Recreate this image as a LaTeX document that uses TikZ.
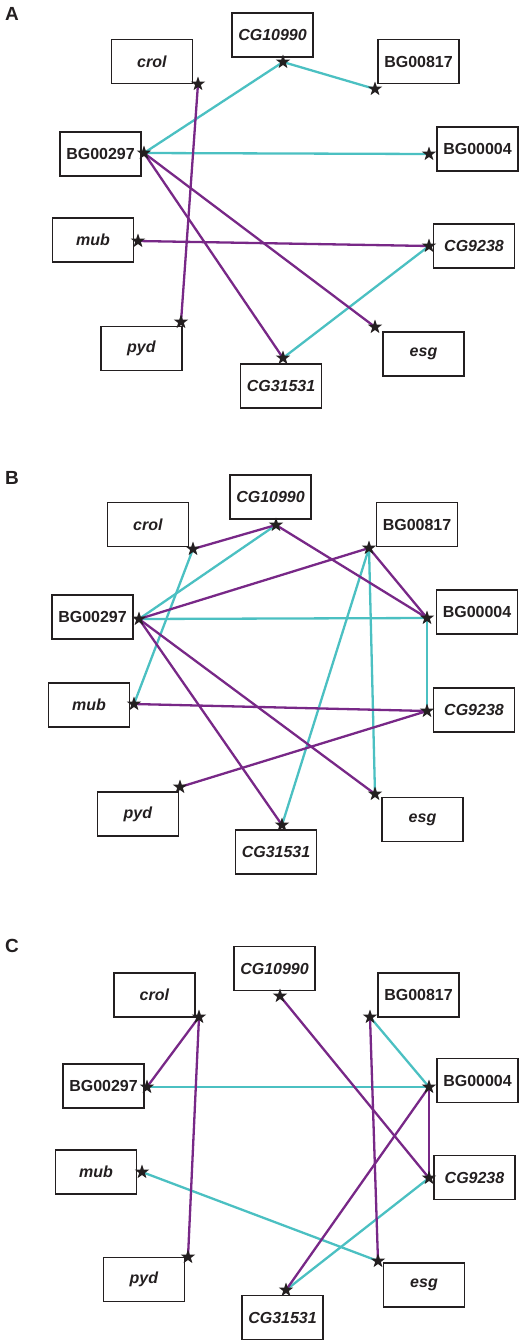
\documentclass[tikz,border=0pt]{standalone}
\usepackage{fontspec}
\setmainfont{Liberation Sans}
\usetikzlibrary{shapes.geometric,backgrounds}
\definecolor{cyanedge}{RGB}{75,192,194}
\definecolor{purpedge}{RGB}{120,40,135}
\definecolor{ink}{RGB}{35,31,32}
\newcommand\gbox[4]{\node[genebox] (#1) at (#2,#3) {#4};}
\newcommand\gstar[3]{\node[gstar] (#1) at (#2,#3) {};}
\newcommand\gi[1]{\textit{#1}}
\begin{document}
\begin{tikzpicture}[x=1pt,y=-1pt,
  genebox/.style={draw=ink,line width=1.5pt,minimum width=81pt,minimum height=44pt,inner sep=0pt,
    font=\fontsize{16}{18}\selectfont\bfseries,text=ink},
  gstar/.style={star,star points=5,star point ratio=2.5,fill=ink,draw=none,minimum size=15pt,inner sep=0pt},
  cy/.style={draw=cyanedge,line width=2.3pt},
  pu/.style={draw=purpedge,line width=2.3pt},
  plabel/.style={font=\fontsize{19}{21}\selectfont\bfseries,text=ink}]
\useasboundingbox (0,0) rectangle (527,1344);
% ---------------- Panel A
\node[plabel] (labA) at (12,14) {A};
\gbox{A-crol}{152}{61.5}{\gi{crol}}
\gbox{A-g10990}{272.5}{35}{\gi{CG10990}}
\gbox{A-b817}{418.5}{61.5}{BG00817}
\gbox{A-b297}{100.5}{154}{BG00297}
\gbox{A-b004}{477.5}{149}{BG00004}
\gbox{A-mub}{93}{240}{\gi{mub}}
\gbox{A-g9238}{474}{246}{\gi{CG9238}}
\gbox{A-pyd}{141.5}{348.5}{\gi{pyd}}
\gbox{A-g31531}{281}{386}{\gi{CG31531}}
\gbox{A-esg}{423.5}{354}{\gi{esg}}
\gstar{A-crol-s}{198}{84}
\gstar{A-g10990-s}{283}{62}
\gstar{A-b817-s}{375}{89}
\gstar{A-b297-s}{144}{153}
\gstar{A-b004-s}{429}{154}
\gstar{A-mub-s}{138}{241}
\gstar{A-g9238-s}{429}{246}
\gstar{A-pyd-s}{181}{322}
\gstar{A-g31531-s}{283}{358}
\gstar{A-esg-s}{375}{327}
\begin{scope}[on background layer]
\draw[cy] (A-b297-s.center) -- (A-g10990-s.center);
\draw[cy] (A-g10990-s.center) -- (A-b817-s.center);
\draw[cy] (A-b297-s.center) -- (A-b004-s.center);
\draw[cy] (A-g9238-s.center) -- (A-g31531-s.center);
\draw[pu] (A-crol-s.center) -- (A-pyd-s.center);
\draw[pu] (A-b297-s.center) -- (A-g31531-s.center);
\draw[pu] (A-b297-s.center) -- (A-esg-s.center);
\draw[pu] (A-mub-s.center) -- (A-g9238-s.center);
\end{scope}
% ---------------- Panel B
\node[plabel] (labB) at (12,478) {B};
\gbox{B-crol}{148}{524.5}{\gi{crol}}
\gbox{B-g10990}{270.5}{497}{\gi{CG10990}}
\gbox{B-b817}{417}{524.5}{BG00817}
\gbox{B-b297}{92.5}{617}{BG00297}
\gbox{B-b004}{477}{612}{BG00004}
\gbox{B-mub}{89}{705}{\gi{mub}}
\gbox{B-g9238}{474}{710}{\gi{CG9238}}
\gbox{B-pyd}{138}{814}{\gi{pyd}}
\gbox{B-g31531}{276}{852}{\gi{CG31531}}
\gbox{B-esg}{422.5}{819.5}{\gi{esg}}
\gstar{B-crol-s}{193}{549}
\gstar{B-g10990-s}{276}{525}
\gstar{B-b817-s}{369}{548}
\gstar{B-b297-s}{139}{619}
\gstar{B-b004-s}{427}{618}
\gstar{B-mub-s}{134}{704}
\gstar{B-g9238-s}{427}{711}
\gstar{B-pyd-s}{180}{787}
\gstar{B-g31531-s}{282}{825}
\gstar{B-esg-s}{375}{794}
\begin{scope}[on background layer]
\draw[cy] (B-g10990-s.center) -- (B-b297-s.center);
\draw[cy] (B-crol-s.center) -- (B-mub-s.center);
\draw[cy] (B-b297-s.center) -- (B-b004-s.center);
\draw[cy] (B-b817-s.center) -- (B-g31531-s.center);
\draw[cy] (B-b817-s.center) -- (B-esg-s.center);
\draw[cy] (B-b004-s.center) -- (B-g9238-s.center);
\draw[pu] (B-crol-s.center) -- (B-g10990-s.center);
\draw[pu] (B-g10990-s.center) -- (B-b004-s.center);
\draw[pu] (B-b297-s.center) -- (B-b817-s.center);
\draw[pu] (B-b817-s.center) -- (B-b004-s.center);
\draw[pu] (B-b297-s.center) -- (B-g31531-s.center);
\draw[pu] (B-b297-s.center) -- (B-esg-s.center);
\draw[pu] (B-mub-s.center) -- (B-g9238-s.center);
\draw[pu] (B-g9238-s.center) -- (B-pyd-s.center);
\end{scope}
% ---------------- Panel C
\node[plabel] (labC) at (12,946) {C};
\gbox{C-crol}{154.5}{995}{\gi{crol}}
\gbox{C-g10990}{274.5}{968.5}{\gi{CG10990}}
\gbox{C-b817}{418.5}{995}{BG00817}
\gbox{C-b297}{103.5}{1086}{BG00297}
\gbox{C-b004}{477.5}{1080.5}{BG00004}
\gbox{C-mub}{96}{1172}{\gi{mub}}
\gbox{C-g9238}{474.5}{1177.5}{\gi{CG9238}}
\gbox{C-pyd}{144}{1279.5}{\gi{pyd}}
\gbox{C-g31531}{282.5}{1317.5}{\gi{CG31531}}
\gbox{C-esg}{424}{1285}{\gi{esg}}
\gstar{C-crol-s}{199}{1017}
\gstar{C-g10990-s}{280}{996}
\gstar{C-b817-s}{370}{1017}
\gstar{C-b297-s}{147}{1087}
\gstar{C-b004-s}{429}{1087}
\gstar{C-mub-s}{142}{1172}
\gstar{C-g9238-s}{429}{1178}
\gstar{C-pyd-s}{188}{1257}
\gstar{C-g31531-s}{286}{1290}
\gstar{C-esg-s}{378}{1261}
\begin{scope}[on background layer]
\draw[cy] (C-b817-s.center) -- (C-b004-s.center);
\draw[cy] (C-b297-s.center) -- (C-b004-s.center);
\draw[cy] (C-mub-s.center) -- (C-esg-s.center);
\draw[cy] (C-g9238-s.center) -- (C-g31531-s.center);
\draw[pu] (C-crol-s.center) -- (C-b297-s.center);
\draw[pu] (C-crol-s.center) -- (C-pyd-s.center);
\draw[pu] (C-g10990-s.center) -- (C-g9238-s.center);
\draw[pu] (C-b817-s.center) -- (C-esg-s.center);
\draw[pu] (C-b004-s.center) -- (C-g31531-s.center);
\draw[pu] (C-b004-s.center) -- (C-g9238-s.center);
\end{scope}
\end{tikzpicture}
\end{document}
